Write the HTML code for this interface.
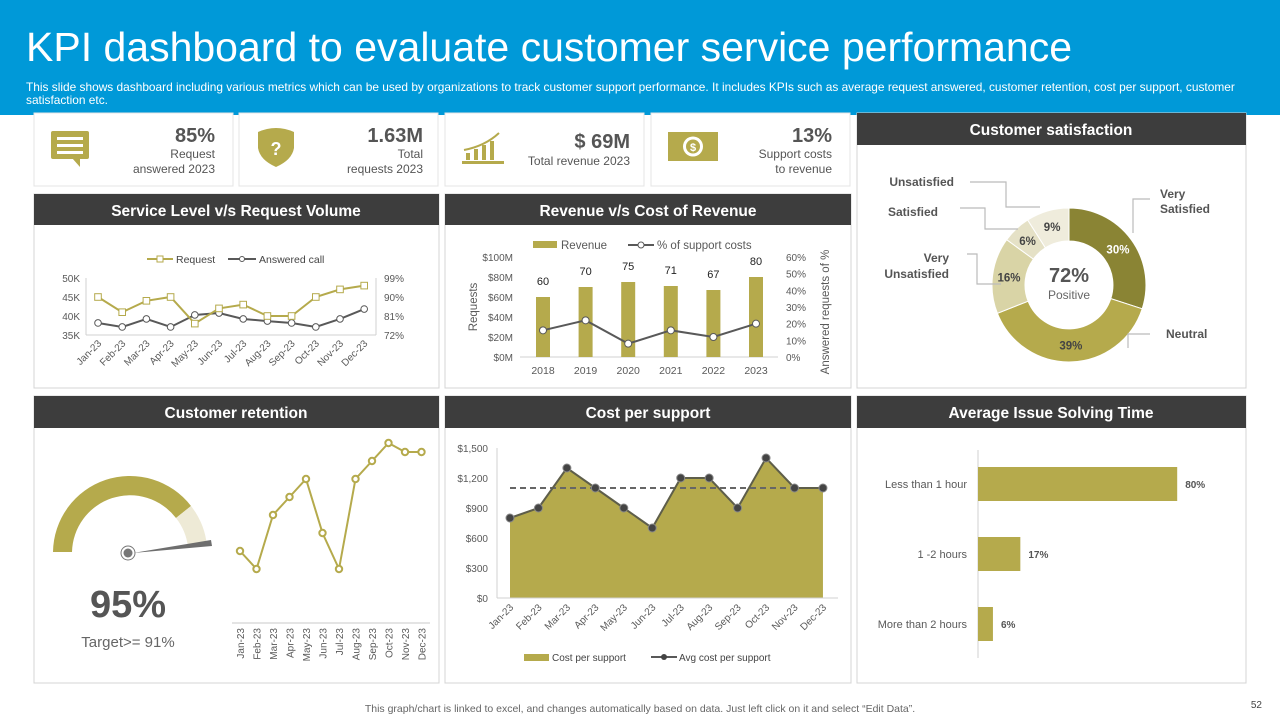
<!DOCTYPE html>
<html><head><meta charset="utf-8"><style>
body{margin:0;width:1280px;height:720px;overflow:hidden;background:#fff;font-family:"Liberation Sans",Arial,sans-serif}
svg text{font-family:"Liberation Sans",Arial,sans-serif}
</style></head><body>
<svg id="s" width="1280" height="720" viewBox="0 0 1280 720" xmlns="http://www.w3.org/2000/svg">
<rect x="0" y="0" width="1280" height="115" fill="#0099d8"/>
<text x="26" y="61" font-size="41" fill="#fff">KPI dashboard to evaluate customer service performance</text>
<text x="26" y="91" font-size="11.9" fill="#fff">This slide shows dashboard including various metrics which can be used by organizations to track customer support performance. It includes KPIs such as average request answered, customer retention, cost per support, customer</text>
<text x="26" y="104" font-size="11.9" fill="#fff">satisfaction etc.</text>

<!-- KPI cards -->
<g>
<rect x="34" y="113" width="199" height="73" fill="#fff" stroke="#e4e4e4"/>
<rect x="51" y="131" width="38" height="28" rx="2" fill="#b5aa4c"/><path d="M72 158 L80 167 L80 158Z" fill="#b5aa4c"/>
<rect x="57" y="137" width="26" height="3" fill="#fff"/><rect x="57" y="144" width="26" height="3" fill="#fff"/><rect x="57" y="151" width="26" height="3" fill="#fff"/>
<text x="215" y="142" font-size="20" font-weight="bold" fill="#555" text-anchor="end">85%</text>
<text x="215" y="158" font-size="12" fill="#555" text-anchor="end">Request</text>
<text x="215" y="173" font-size="12" fill="#555" text-anchor="end">answered 2023</text></g>
<g>
<rect x="239" y="113" width="199" height="73" fill="#fff" stroke="#e4e4e4"/>
<path d="M258 132 Q276 124 294 132 L294 148 Q292 160 276 167 Q260 160 258 148Z" fill="#b5aa4c"/>
<text x="276" y="155" font-size="18" font-weight="bold" fill="#fff" text-anchor="middle">?</text>
<text x="423" y="142" font-size="20" font-weight="bold" fill="#555" text-anchor="end">1.63M</text>
<text x="423" y="158" font-size="12" fill="#555" text-anchor="end">Total</text>
<text x="423" y="173" font-size="12" fill="#555" text-anchor="end">requests 2023</text></g>
<g>
<rect x="445" y="113" width="199" height="73" fill="#fff" stroke="#e4e4e4"/>
<rect x="466" y="153" width="4" height="7" fill="#b5aa4c"/><rect x="474" y="149" width="4" height="11" fill="#b5aa4c"/><rect x="482" y="145" width="4" height="15" fill="#b5aa4c"/><rect x="490" y="141" width="4" height="19" fill="#b5aa4c"/><rect x="462" y="161" width="42" height="3" fill="#b5aa4c"/>
<path d="M464 150 Q485 146 499 133" stroke="#b5aa4c" stroke-width="2" fill="none"/>
<text x="630" y="148" font-size="20" font-weight="bold" fill="#555" text-anchor="end">$ 69M</text>
<text x="630" y="165" font-size="12" fill="#555" text-anchor="end">Total revenue 2023</text></g>
<g>
<rect x="651" y="113" width="199" height="73" fill="#fff" stroke="#e4e4e4"/>
<rect x="668" y="132" width="50" height="29" fill="#b5aa4c"/><circle cx="693" cy="146.5" r="10" fill="#fff"/><circle cx="693" cy="146.5" r="7" fill="#b5aa4c"/>
<text x="693" y="151" font-size="11" font-weight="bold" fill="#fff" text-anchor="middle">$</text>
<text x="832" y="142" font-size="20" font-weight="bold" fill="#555" text-anchor="end">13%</text>
<text x="832" y="158" font-size="12" fill="#555" text-anchor="end">Support costs</text>
<text x="832" y="173" font-size="12" fill="#555" text-anchor="end">to revenue</text></g>

<!-- panels -->
<g fill="#fff" stroke="#d4d4d4">
<rect x="857" y="113" width="389" height="275"/>
<rect x="34" y="194" width="405" height="194"/>
<rect x="445" y="194" width="406" height="194"/>
<rect x="34" y="396" width="405" height="287"/>
<rect x="445" y="396" width="406" height="287"/>
<rect x="857" y="396" width="389" height="287"/>
</g>
<g fill="#3d3d3d">
<rect x="857" y="113" width="389" height="32"/>
<rect x="34" y="194" width="405" height="31"/>
<rect x="445" y="194" width="406" height="31"/>
<rect x="34" y="396" width="405" height="32"/>
<rect x="445" y="396" width="406" height="32"/>
<rect x="857" y="396" width="389" height="32"/>
</g>
<g fill="#fff" font-size="15.5" font-weight="bold" text-anchor="middle">
<text x="1051" y="135">Customer satisfaction</text>
<text x="236" y="216">Service Level v/s Request Volume</text>
<text x="648" y="216">Revenue v/s Cost of Revenue</text>
<text x="236" y="418">Customer retention</text>
<text x="648" y="418">Cost per support</text>
<text x="1051" y="418">Average Issue Solving Time</text>
</g>

<!-- gauge -->
<g>
<path d="M53 552 A77 77 0 0 1 191 506 L176 518 A58 58 0 0 0 72 552Z" fill="#b5aa4c"/>
<path d="M191 506 A77 77 0 0 1 207 546 L188 547 A58 58 0 0 0 176 518Z" fill="#eeead6"/>
<path d="M133 553 L211 540 L212 546Z" fill="#6e6e6e"/>
<circle cx="128" cy="553" r="7" fill="#fff" stroke="#777"/><circle cx="128" cy="553" r="4.5" fill="#777"/>
<text x="128" y="617" font-size="38" font-weight="bold" fill="#555" text-anchor="middle">95%</text>
<text x="128" y="647" font-size="15" fill="#666" text-anchor="middle">Target&gt;= 91%</text>
</g>

<text x="640" y="712" font-size="10.5" fill="#666" text-anchor="middle">This graph/chart is linked to excel, and changes automatically based on data. Just left click on it and select “Edit Data”.</text>
<text x="1262" y="708" font-size="10" fill="#444" text-anchor="end">52</text>
<g id="charts"></g>
</svg>
<script>
const months=["Jan-23","Feb-23","Mar-23","Apr-23","May-23","Jun-23","Jul-23","Aug-23","Sep-23","Oct-23","Nov-23","Dec-23"];
const slRequest=[45,41,44,45,38,42,43,40,40,45,47,48];
const slAnswered=[77.7,75.8,79.6,75.8,81.5,82.4,79.6,78.6,77.7,75.8,79.6,84.3];
const slLeftTicks=["35K","40K","45K","50K"];
const slRightTicks=["72%","81%","90%","99%"];
const revYears=["2018","2019","2020","2021","2022","2023"];
const revValues=[60,70,75,71,67,80];
const revSupportPct=[16,22,8,16,12,20];
const revLeftTicks=["$0M","$20M","$40M","$60M","$80M","$100M"];
const revRightTicks=["0%","10%","20%","30%","40%","50%","60%"];
const retentionValues=[88,86,92,94,96,90,86,96,98,100,99,99];
const costValues=[800,900,1300,1100,900,700,1200,1200,900,1400,1100,1100];
const costAvg=1100;
const costTicks=["$0","$300","$600","$900","$1,200","$1,500"];
const issueLabels=["Less than 1 hour","1 -2 hours","More than 2 hours"];
const issueValues=[80,17,6];
const satLabels=["Very Satisfied","Neutral","Very Unsatisfied","Satisfied","Unsatisfied"];
const satValues=[30,39,16,6,9];

const NS="http://www.w3.org/2000/svg";
const root=document.getElementById("charts");
function mk(tag,at,parent,txt){const e=document.createElementNS(NS,tag);for(const k in at)e.setAttribute(k,at[k]);if(txt!==undefined)e.textContent=txt;(parent||root).appendChild(e);return e;}
const OL="#b5aa4c",GR="#595959",TX="#595959";

// Service level chart
(function(){
 const g=mk("g",{});
 
 
 const x=i=>98+i*24.2, yL=v=>335-(v-35)*3.8, yR=v=>335-(v-72)*(57/27);
 mk("line",{x1:86,y1:335,x2:376,y2:335,stroke:"#d0d0d0"},g);
 mk("line",{x1:86,y1:278,x2:86,y2:335,stroke:"#d0d0d0"},g);
 mk("line",{x1:376,y1:278,x2:376,y2:335,stroke:"#d0d0d0"},g);
 slLeftTicks.forEach((t,i)=>mk("text",{x:80,y:yL(35+i*5)+4,"font-size":10,fill:TX,"text-anchor":"end"},g,t));
 slRightTicks.forEach((t,i)=>mk("text",{x:384,y:yR(72+i*9)+4,"font-size":10,fill:TX},g,t));
 months.forEach((m,i)=>mk("text",{x:x(i)+4,y:344,"font-size":10,fill:TX,"text-anchor":"end",transform:`rotate(-45 ${x(i)+4} 344)`},g,m));
 mk("polyline",{points:slAnswered.map((v,i)=>x(i)+","+yR(v)).join(" "),fill:"none",stroke:GR,"stroke-width":2},g);
 slAnswered.forEach((v,i)=>{const c=mk("circle",{cx:x(i),cy:yR(v),r:3.3,fill:"#fff",stroke:GR},g);});
 mk("polyline",{points:slRequest.map((v,i)=>x(i)+","+yL(v)).join(" "),fill:"none",stroke:OL,"stroke-width":2},g);
 slRequest.forEach((v,i)=>{const r=mk("rect",{x:x(i)-3.3,y:yL(v)-3.3,width:6.6,height:6.6,fill:"#fff",stroke:OL},g);});
 const lg=mk("g",{},g);
 
 
 mk("line",{x1:147,y1:259,x2:173,y2:259,stroke:OL,"stroke-width":2},lg);mk("rect",{x:157,y:256,width:6,height:6,fill:"#fff",stroke:OL},lg);
 mk("text",{x:176,y:263,"font-size":10.5,fill:"#444"},lg,"Request");
 mk("line",{x1:228,y1:259,x2:256,y2:259,stroke:GR,"stroke-width":2},lg);mk("circle",{cx:242,cy:259,r:2.5,fill:"#fff",stroke:GR},lg);
 mk("text",{x:259,y:263,"font-size":10.5,fill:"#444"},lg,"Answered call");
})();

// Revenue chart
(function(){
 const g=mk("g",{});
 
 
 const x=i=>543+i*42.6, yL=v=>357-v, yR=v=>357-v*(100/60);
 mk("line",{x1:520,y1:357,x2:778,y2:357,stroke:"#d0d0d0"},g);
 revLeftTicks.forEach((t,i)=>mk("text",{x:513,y:yL(i*20)+4,"font-size":10,fill:TX,"text-anchor":"end"},g,t));
 revRightTicks.forEach((t,i)=>mk("text",{x:786,y:yR(i*10)+4,"font-size":10,fill:TX},g,t));
 mk("text",{x:477,y:307,"font-size":11.5,fill:TX,"text-anchor":"middle",transform:"rotate(-90 477 307)"},g,"Requests");
 mk("text",{x:829,y:312,"font-size":11.5,fill:TX,"text-anchor":"middle",transform:"rotate(-90 829 312)"},g,"Answered requests of %");
 revYears.forEach((yr,i)=>{
  mk("text",{x:x(i),y:374,"font-size":10.5,fill:TX,"text-anchor":"middle"},g,yr);
  const b=mk("rect",{x:x(i)-7,y:yL(revValues[i]),width:14,height:revValues[i],fill:OL},g);
  
  
  mk("text",{x:x(i),y:yL(revValues[i])-12,"font-size":11,fill:"#222","text-anchor":"middle"},g,String(revValues[i]));
 });
 mk("polyline",{points:revSupportPct.map((v,i)=>x(i)+","+yR(v)).join(" "),fill:"none",stroke:GR,"stroke-width":2},g);
 revSupportPct.forEach((v,i)=>{const c=mk("circle",{cx:x(i),cy:yR(v),r:3.5,fill:"#fff",stroke:GR},g);});
 const lg=mk("g",{},g);
 
 
 mk("rect",{x:533,y:241,width:24,height:7,fill:OL},lg);
 mk("text",{x:561,y:249,"font-size":11.5,fill:TX},lg,"Revenue");
 mk("line",{x1:628,y1:245,x2:654,y2:245,stroke:GR,"stroke-width":2},lg);mk("circle",{cx:641,cy:245,r:3,fill:"#fff",stroke:GR},lg);
 mk("text",{x:657,y:249,"font-size":11.5,fill:TX},lg,"% of support costs");
})();

// Retention line
(function(){
 const g=mk("g",{});
 
 
 const x=i=>240+i*16.5, y=v=>443+(100-v)*9;
 mk("line",{x1:232,y1:623,x2:430,y2:623,stroke:"#c8c8c8"},g);
 months.forEach((m,i)=>mk("text",{x:x(i)+4,y:628,"font-size":10,fill:TX,"text-anchor":"end",transform:`rotate(-90 ${x(i)+4} 628)`},g,m));
 mk("polyline",{points:retentionValues.map((v,i)=>x(i)+","+y(v)).join(" "),fill:"none",stroke:OL,"stroke-width":2},g);
 retentionValues.forEach((v,i)=>{const c=mk("circle",{cx:x(i),cy:y(v),r:3.2,fill:"#fff",stroke:OL,"stroke-width":2},g);});
})();

// Cost per support
(function(){
 const g=mk("g",{});
 
 
 const x=i=>510+i*28.45, y=v=>598-v*0.1;
 costTicks.forEach((t,i)=>mk("text",{x:488,y:y(i*300)+4,"font-size":10,fill:TX,"text-anchor":"end"},g,t));
 const pts=costValues.map((v,i)=>x(i)+","+y(v));
 const a=mk("polygon",{points:x(0)+",598 "+pts.join(" ")+" "+x(11)+",598",fill:OL},g);
 
 
 mk("line",{x1:497,y1:598,x2:838,y2:598,stroke:"#d0d0d0"},g);
 mk("line",{x1:497,y1:448,x2:497,y2:598,stroke:"#d0d0d0"},g);
 const d=mk("line",{x1:x(0),y1:y(costAvg),x2:x(11),y2:y(costAvg),stroke:"#666","stroke-width":2,"stroke-dasharray":"6 4"},g);
 
 
 mk("polyline",{points:pts.join(" "),fill:"none",stroke:"#5e5e4a","stroke-width":2},g);
 costValues.forEach((v,i)=>{const c=mk("circle",{cx:x(i),cy:y(v),r:4,fill:"#444",stroke:"#888"},g);});
 months.forEach((m,i)=>mk("text",{x:x(i)+4,y:608,"font-size":10,fill:TX,"text-anchor":"end",transform:`rotate(-45 ${x(i)+4} 608)`},g,m));
 const lg=mk("g",{},g);
 
 
 mk("rect",{x:524,y:654,width:25,height:7,fill:OL},lg);
 mk("text",{x:552,y:661,"font-size":10,fill:"#444"},lg,"Cost per support");
 mk("line",{x1:651,y1:657,x2:677,y2:657,stroke:GR,"stroke-width":2},lg);mk("circle",{cx:664,cy:657,r:3,fill:"#444"},lg);
 mk("text",{x:679,y:661,"font-size":10,fill:"#444"},lg,"Avg cost per support");
})();

// Avg issue solving time
(function(){
 const g=mk("g",{});
 
 
 const y=i=>484+i*70, w=v=>v*2.49;
 mk("line",{x1:978,y1:450,x2:978,y2:658,stroke:"#d0d0d0"},g);
 issueLabels.forEach((l,i)=>{
  mk("text",{x:967,y:y(i)+4,"font-size":11,fill:TX,"text-anchor":"end"},g,l);
  const b=mk("rect",{x:978,y:y(i)-17,width:w(issueValues[i]),height:34,fill:OL},g);
  
  
  mk("text",{x:978+w(issueValues[i])+8,y:y(i)+4,"font-size":10,"font-weight":"bold",fill:"#555"},g,issueValues[i]+"%");
 });
})();

// Donut
(function(){
 const g=mk("g",{});
 
 
 const cx=1069,cy=285,R=77,r=44,cols=["#8a8434","#b5aa4c","#d9d4a6","#e5e1c6","#efecdc"];
 const total=satValues.reduce((a,b)=>a+b,0);let a0=-Math.PI/2;
 satValues.forEach((v,i)=>{
  const a1=a0+v/total*2*Math.PI,lg=(a1-a0)>Math.PI?1:0;
  const p=(rr,a)=>(cx+rr*Math.cos(a)).toFixed(1)+","+(cy+rr*Math.sin(a)).toFixed(1);
  const s=mk("path",{d:`M${p(R,a0)} A${R} ${R} 0 ${lg} 1 ${p(R,a1)} L${p(r,a1)} A${r} ${r} 0 ${lg} 0 ${p(r,a0)}Z`,fill:cols[i],stroke:"#fff","stroke-width":1},g);
  
  
  const am=(a0+a1)/2,lr=(R+r)/2;
  mk("text",{x:cx+lr*Math.cos(am),y:cy+lr*Math.sin(am)+4,"font-size":11.5,"font-weight":"bold",fill:i==0?"#fff":"#444","text-anchor":"middle"},g,v+"%");
  a0=a1;
 });
 mk("text",{x:cx,y:282,"font-size":20,"font-weight":"bold",fill:"#555","text-anchor":"middle"},g,"72%");
 mk("text",{x:cx,y:299,"font-size":12,fill:"#666","text-anchor":"middle"},g,"Positive");
 const L=[["M1133 233 L1133 199 L1150 199",1160,[["Very",198],["Satisfied",213]],"start"],
  ["M1128 348 L1128 334 L1150 334",1166,[["Neutral",338]],"start"],
  ["M1001 284 L977 284 L977 254 L967 254",949,[["Very",262],["Unsatisfied",278]],"end"],
  ["M1018 229 L985 229 L985 208 L960 208",938,[["Satisfied",216]],"end"],
  ["M1040 207 L1006 207 L1006 182 L970 182",954,[["Unsatisfied",186]],"end"]];
 L.forEach(d=>{mk("path",{d:d[0],fill:"none",stroke:"#bbb","stroke-width":1.2},g);
  d[2].forEach(t=>mk("text",{x:d[1],y:t[1],"font-size":12,"font-weight":"bold",fill:"#555","text-anchor":d[3]},g,t[0]));});
})();
</script>
</body></html>
